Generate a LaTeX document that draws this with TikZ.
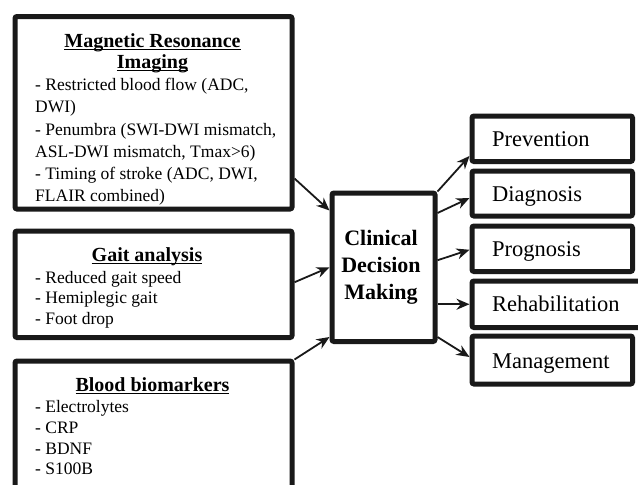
\documentclass[tikz,border=0pt]{standalone}
\usepackage{fontspec}
\setmainfont{Liberation Serif}
\usetikzlibrary{arrows.meta}
\newsavebox\ulbox
\newcommand\myul[1]{\sbox\ulbox{#1}\rlap{\rule[-2.6pt]{\wd\ulbox}{1.2pt}}\usebox\ulbox}
\tikzset{
  box/.style={draw=black!90, line width=5pt, rounded corners=2pt, inner sep=0pt, fill=white},
  head/.style={font=\fontsize{20}{24}\selectfont\bfseries, inner sep=0pt, anchor=base},
  item/.style={font=\fontsize{17.5}{21}\selectfont, inner sep=0pt, anchor=base west},
  cdmtext/.style={font=\fontsize{22}{26}\selectfont\bfseries, inner sep=0pt, anchor=base},
  outtext/.style={font=\fontsize{22.5}{26}\selectfont, inner sep=0pt, anchor=base west},
  arr/.style={line width=1.8pt, draw=black!90, -{Stealth[length=13pt,width=11pt]}}
}
\begin{document}
\begin{tikzpicture}[x=1pt,y=-1pt]
\useasboundingbox (0,0) rectangle (638,485);
\clip (0,0) rectangle (638,485);
\fill[white] (0,0) rectangle (638,485);
% left boxes
\node[box, minimum width=277pt, minimum height=192.5pt] (mri) at (153.5,112.75) {};
\node[box, minimum width=277pt, minimum height=106.5pt] (gait) at (153.5,284.25) {};
\node[box, minimum width=277pt, minimum height=159pt] (blood) at (153.5,440.5) {};
% centre
\node[box, minimum width=103pt, minimum height=148.5pt] (cdm) at (383.5,267.25) {};
% right boxes
\node[box, minimum width=160.5pt, minimum height=45.5pt] (prev) at (552.25,138.75) {};
\node[box, minimum width=160.5pt, minimum height=45pt] (diag) at (552.25,193.5) {};
\node[box, minimum width=160.5pt, minimum height=45.5pt] (prog) at (552.25,248.75) {};
\node[box, minimum width=175pt, minimum height=46.5pt] (rehab) at (559.5,304.25) {};
\node[box, minimum width=160.5pt, minimum height=48pt] (mgmt) at (552.25,360) {};
% MRI text
\node[head] (mrih1) at (152.5,47.7) {\myul{Magnetic Resonance}};
\node[head] (mrih2) at (152.5,68.5) {\myul{Imaging}};
\node[item] (mri1) at (35,90.7) {- Restricted blood flow (ADC,};
\node[item] (mri2) at (35,112.8) {DWI)};
\node[item] (mri3) at (35,135) {- Penumbra (SWI-DWI mismatch,};
\node[item] (mri4) at (35,157.2) {ASL-DWI mismatch, Tmax>6)};
\node[item] (mri5) at (35,179.5) {- Timing of stroke (ADC, DWI,};
\node[item] (mri6) at (35,201.7) {FLAIR combined)};
% gait text
\node[head] (gaith) at (147,261.7) {\myul{Gait analysis}};
\node[item] (gait1) at (35,283) {- Reduced gait speed};
\node[item] (gait2) at (35,303.5) {- Hemiplegic gait};
\node[item] (gait3) at (35,324) {- Foot drop};
% blood text
\node[head] (bloodh) at (152.5,391.7) {\myul{Blood biomarkers}};
\node[item] (blood1) at (35,412.7) {- Electrolytes};
\node[item] (blood2) at (35,433.3) {- CRP};
\node[item] (blood3) at (35,454) {- BDNF};
\node[item] (blood4) at (35,474.5) {- S100B};
% centre text
\node[cdmtext] (cdm1) at (381,245) {Clinical};
\node[cdmtext] (cdm2) at (381,272.5) {Decision};
\node[cdmtext] (cdm3) at (381,299.3) {Making};
% right text
\node[outtext] (prevt) at (492,146.7) {Prevention};
\node[outtext] (diagt) at (492,201.7) {Diagnosis};
\node[outtext] (progt) at (492,256.7) {Prognosis};
\node[outtext] (rehabt) at (492,311.7) {Rehabilitation};
\node[outtext] (mgmtt) at (492,368.3) {Management};
% arrows in
\draw[arr] ([yshift=33pt]mri.south east) -- ([yshift=-20pt]cdm.north west);
\draw[arr] ([yshift=2pt]gait.east) -- (cdm.west);
\draw[arr] ([yshift=-1pt]blood.north east) -- ([yshift=7pt]cdm.south west);
% arrows out
\draw[arr] ([yshift=-1pt]cdm.north east) -- ([yshift=8pt]prev.south west);
\draw[arr] ([yshift=-22.5pt]cdm.north east) -- ([yshift=-4.5pt]diag.west);
\draw[arr] ([yshift=7pt]cdm.east) -- ([yshift=-1pt]prog.west);
\draw[arr] (cdm.east |- rehab.west) -- (rehab.west);
\draw[arr] ([yshift=7pt]cdm.south east) -- ([yshift=3pt]mgmt.west);
\end{tikzpicture}
\end{document}
